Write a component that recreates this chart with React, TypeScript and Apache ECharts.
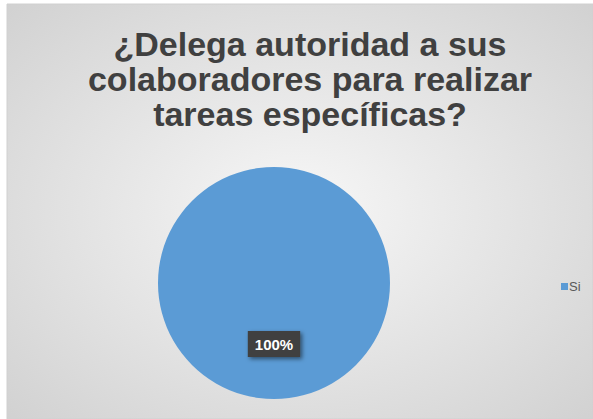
import React, { useEffect, useRef } from "react";
import * as echarts from "echarts";

const titleLines = ["¿Delega autoridad a sus", "colaboradores para realizar", "tareas específicas?"];
const categories = ["Si"];
const values = [100];
const colors = ["#5b9bd5"];

export default function App() {
  const ref = useRef<HTMLDivElement>(null);
  useEffect(() => {
    const chart = echarts.init(ref.current!, null, { renderer: "svg" });
    chart.setOption({
      animation: false,
      graphic: [
        {
          type: "rect",
          z: -10,
          shape: { x: 7, y: 4, width: 586, height: 415 },
          style: {
            fill: new echarts.graphic.RadialGradient(0.5, 0.5, 0.75, [
              { offset: 0, color: "#f7f7f7" },
              { offset: 1, color: "#cfcfcf" },
            ]),
            stroke: "#d0d0d0",
            lineWidth: 1,
          },
        },
      ],
      title: {
        text: titleLines.join("\n"),
        left: 305,
        textAlign: "center",
        top: 21,
        textStyle: {
          fontFamily: "Liberation Sans, Arial, sans-serif",
          fontSize: 34,
          fontWeight: "bold",
          color: "#404040",
          lineHeight: 35,
        },
      },
      legend: {
        orient: "vertical",
        left: 556,
        top: 275,
        itemWidth: 7,
        itemHeight: 7,
        itemGap: 4,
        icon: "rect",
        textStyle: { fontFamily: "Liberation Sans, Arial, sans-serif", fontSize: 13, color: "#595959", padding: [0, 0, 0, -4] },
        data: categories,
      },
      series: [
        {
          type: "pie",
          center: [274, 283],
          radius: 116,
          startAngle: 90,
          data: categories.map((c, i) => ({ name: c, value: values[i], itemStyle: { color: colors[i] } })),
          label: {
            show: true,
            position: "inside",
            formatter: "{d}%",
            color: "#ffffff",
            fontWeight: "bold",
            fontSize: 15,
            fontFamily: "Liberation Sans, Arial, sans-serif",
            backgroundColor: "#404040",
            padding: [6, 7, 5, 7],
            shadowColor: "rgba(0,0,0,0.5)",
            shadowBlur: 4,
            shadowOffsetX: 2,
            shadowOffsetY: 2,
          },
          labelLine: { show: false },
          emphasis: { disabled: true },
        },
      ],
    });
    return () => chart.dispose();
  }, []);
  return (
    <div
      ref={ref}
      style={{ position: "absolute", left: 0, top: 0, width: 593, height: 419, background: "#ffffff" }}
    />
  );
}
